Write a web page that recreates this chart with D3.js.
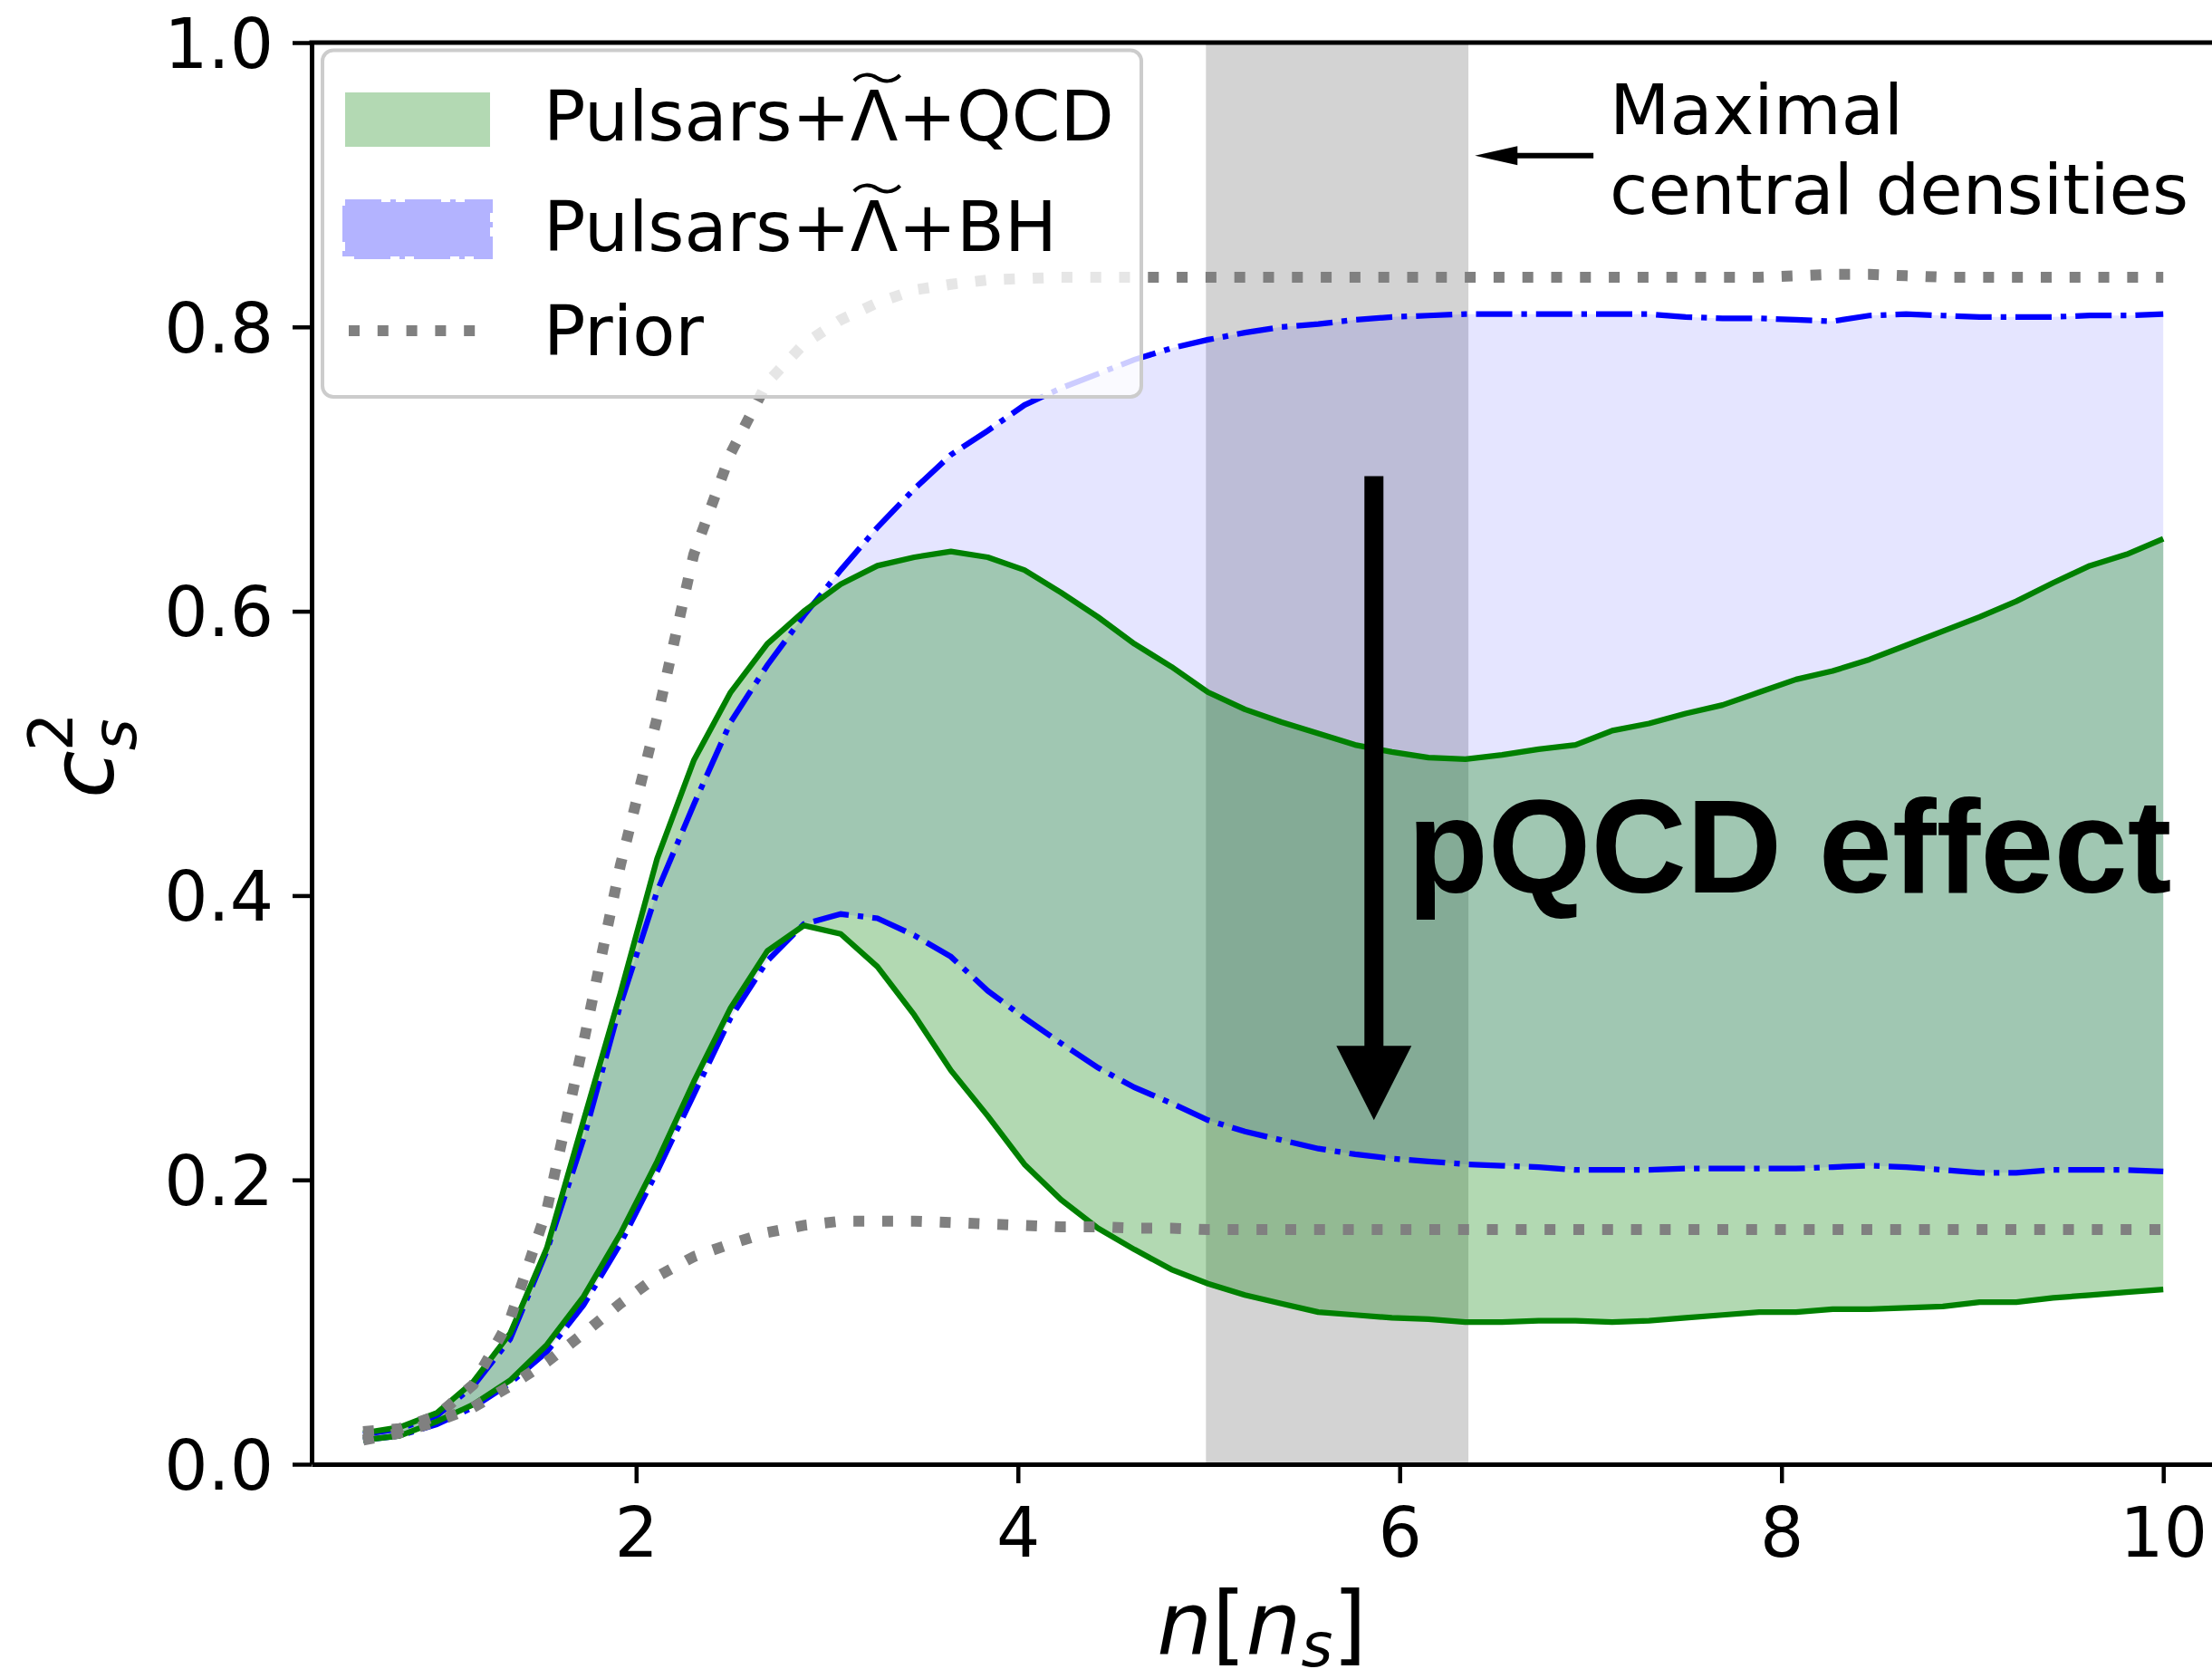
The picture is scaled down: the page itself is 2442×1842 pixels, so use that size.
<!DOCTYPE html>
<html>
<head>
<meta charset="utf-8">
<script src="https://cdn.jsdelivr.net/npm/d3@7"></script>
<style>body{margin:0;background:#fff}</style>
</head>
<body>
<svg width="2442" height="1842"></svg>
<script>
// density grid n [n_s]
var nVals = [0.570,0.762,0.955,1.147,1.340,1.532,1.725,1.917,2.110,2.302,
             2.495,2.687,2.879,3.072,3.264,3.457,3.649,3.842,4.034,4.227,
             4.419,4.611,4.804,4.996,5.189,5.381,5.574,5.766,5.959,6.151,
             6.344,6.536,6.728,6.921,7.113,7.306,7.498,7.691,7.883,8.076,
             8.268,8.460,8.653,8.845,9.038,9.230,9.423,9.615,9.808,10.000];

// Pulsars+Lambda+QCD band
var qcdHi = [0.022,0.026,0.036,0.058,0.092,0.152,0.242,0.331,0.426,0.495,
             0.543,0.577,0.600,0.619,0.632,0.638,0.642,0.638,0.629,0.613,
             0.596,0.577,0.561,0.543,0.531,0.522,0.514,0.506,0.501,0.497,
             0.496,0.499,0.503,0.506,0.516,0.521,0.528,0.534,0.543,0.552,
             0.558,0.566,0.576,0.586,0.596,0.607,0.620,0.632,0.640,0.651];
var qcdLo = [0.017,0.020,0.030,0.042,0.059,0.084,0.118,0.162,0.213,0.269,
             0.321,0.361,0.379,0.373,0.350,0.316,0.277,0.245,0.211,0.186,
             0.166,0.151,0.137,0.127,0.119,0.113,0.107,0.105,0.103,0.102,
             0.100,0.100,0.101,0.101,0.100,0.101,0.103,0.105,0.107,0.107,
             0.109,0.109,0.110,0.111,0.114,0.114,0.117,0.119,0.121,0.123];

// Pulsars+Lambda+BH band
var bhHi = [0.021,0.025,0.034,0.055,0.088,0.150,0.229,0.323,0.403,0.464,
            0.522,0.562,0.597,0.629,0.659,0.686,0.710,0.727,0.745,0.757,
            0.767,0.777,0.785,0.791,0.796,0.800,0.802,0.805,0.807,0.808,
            0.809,0.809,0.809,0.809,0.809,0.809,0.807,0.806,0.806,0.805,
            0.804,0.808,0.809,0.808,0.807,0.807,0.807,0.808,0.808,0.809];
var bhLo = [0.017,0.020,0.028,0.040,0.057,0.079,0.112,0.155,0.206,0.260,
            0.314,0.354,0.380,0.387,0.384,0.372,0.357,0.333,0.314,0.296,
            0.279,0.265,0.254,0.242,0.234,0.228,0.222,0.218,0.215,0.213,
            0.211,0.210,0.209,0.207,0.207,0.207,0.208,0.208,0.208,0.208,
            0.209,0.210,0.209,0.207,0.205,0.205,0.207,0.207,0.207,0.206];

// prior
var priorHi = [0.023,0.025,0.034,0.056,0.102,0.179,0.297,0.421,0.525,0.640,
               0.711,0.761,0.788,0.805,0.817,0.826,0.830,0.833,0.834,0.835,
               0.835,0.835,0.835,0.835,0.835,0.835,0.835,0.835,0.835,0.835,
               0.835,0.835,0.835,0.835,0.835,0.835,0.835,0.835,0.835,0.836,
               0.837,0.837,0.836,0.835,0.835,0.835,0.835,0.835,0.835,0.835];
var priorLo = [0.017,0.022,0.030,0.040,0.055,0.072,0.092,0.113,0.132,0.146,
               0.155,0.163,0.168,0.171,0.171,0.171,0.170,0.169,0.168,0.167,
               0.167,0.166,0.166,0.165,0.165,0.165,0.165,0.165,0.165,0.165,
               0.165,0.165,0.165,0.165,0.165,0.165,0.165,0.165,0.165,0.165,
               0.165,0.165,0.165,0.165,0.165,0.165,0.165,0.165,0.165,0.165];

var xTicks = [2, 4, 6, 8, 10];
var yTicks = [0.0, 0.2, 0.4, 0.6, 0.8, 1.0];
var maxDensity = [4.985, 6.36];   // grey span
var legendLabels = ["Pulsars+Λ+QCD", "Pulsars+Λ+BH", "Prior"];

var svg = d3.select("svg"),
    margin = {top: 47, left: 344},
    width = 2099,
    height = 1569,
    font = "DejaVu Sans";

var x = d3.scaleLinear().domain([0.3, 10.26]).range([0, width]),
    y = d3.scaleLinear().domain([0, 1]).range([height, 0]);

var g = svg.append("g")
    .attr("transform", "translate(" + margin.left + "," + margin.top + ")");

var data = nVals.map(function(n, i) {
  return {n: n, qh: qcdHi[i], ql: qcdLo[i], bh: bhHi[i], bl: bhLo[i], ph: priorHi[i], pl: priorLo[i]};
});

// grey band of maximal central densities
g.append("rect")
    .attr("x", x(maxDensity[0]))
    .attr("y", 0)
    .attr("width", x(maxDensity[1]) - x(maxDensity[0]))
    .attr("height", height)
    .attr("fill", "#d3d3d3");

function band(lo, hi) {
  return d3.area().x(function(d) { return x(d.n); })
      .y0(function(d) { return y(d[lo]); })
      .y1(function(d) { return y(d[hi]); });
}
function line(key) {
  return d3.line().x(function(d) { return x(d.n); }).y(function(d) { return y(d[key]); });
}

g.append("path").datum(data).attr("d", band("bl", "bh"))
    .attr("fill", "#0000ff").attr("fill-opacity", 0.1);
g.append("path").datum(data).attr("d", band("ql", "qh"))
    .attr("fill", "#008000").attr("fill-opacity", 0.3);

["bh", "bl"].forEach(function(k) {
  g.append("path").datum(data).attr("d", line(k))
      .attr("fill", "none").attr("stroke", "#0000ff").attr("stroke-width", 6.25)
      .attr("stroke-dasharray", "40,10,6.25,10");
});
["qh", "ql"].forEach(function(k) {
  g.append("path").datum(data).attr("d", line(k))
      .attr("fill", "none").attr("stroke", "#008000").attr("stroke-width", 6.25)
      .attr("stroke-linejoin", "round");
});
["ph", "pl"].forEach(function(k) {
  g.append("path").datum(data).attr("d", line(k))
      .attr("fill", "none").attr("stroke", "#808080").attr("stroke-width", 12)
      .attr("stroke-dasharray", "12,19.8");
});

// axes
var xAxis = g.append("g")
    .attr("transform", "translate(0," + height + ")")
    .call(d3.axisBottom(x).tickValues(xTicks).tickSize(21).tickSizeOuter(0).tickPadding(27));
var yAxis = g.append("g")
    .call(d3.axisLeft(y).tickValues(yTicks).tickFormat(d3.format(".1f"))
      .tickSize(21).tickSizeOuter(0).tickPadding(21));
[xAxis, yAxis].forEach(function(a) {
  a.attr("font-family", font).attr("font-size", 76);
  a.select(".domain").attr("stroke", "#000").attr("stroke-width", 5);
  a.selectAll(".tick line").attr("stroke", "#000").attr("stroke-width", 4.5);
});
yAxis.selectAll(".tick text").attr("dy", "0.36em");
g.append("line").attr("x1", -2.5).attr("x2", width).attr("y1", 0).attr("y2", 0)
    .attr("stroke", "#000").attr("stroke-width", 5);

// axis labels
var xl = svg.append("text").attr("x", 1393).attr("y", 1825).attr("text-anchor", "middle")
    .attr("font-family", font).attr("font-size", 96);
xl.append("tspan").attr("font-style", "italic").text("n");
xl.append("tspan").text("[");
xl.append("tspan").attr("font-style", "italic").text("n");
xl.append("tspan").attr("font-style", "italic").attr("font-size", 67).attr("dy", 14).text("s");
xl.append("tspan").attr("dy", -14).text("]");

var yl = svg.append("text").attr("transform", "translate(125,881) rotate(-90)")
    .attr("font-family", font).attr("font-size", 96);
yl.append("tspan").attr("font-style", "italic").text("c");
yl.append("tspan").attr("font-style", "italic").attr("font-size", 67).attr("dy", 25).text("s");
yl.append("tspan").attr("font-size", 67).attr("dx", -36).attr("dy", -70).text("2");

// legend
var lg = svg.append("g");
lg.append("rect").attr("x", 356).attr("y", 55.5).attr("width", 904).attr("height", 382.5).attr("rx", 12)
    .attr("fill", "#fff").attr("fill-opacity", 0.8).attr("stroke", "#cccccc").attr("stroke-width", 4);
lg.append("rect").attr("x", 381).attr("y", 102).attr("width", 160).attr("height", 60)
    .attr("fill", "#b3d9b3");
lg.append("rect").attr("x", 381).attr("y", 223).attr("width", 160).attr("height", 60)
    .attr("fill", "#b3b3ff").attr("stroke", "#b3b3ff").attr("stroke-width", 6)
    .attr("stroke-dasharray", "40,10,6,10");
lg.append("line").attr("x1", 385).attr("x2", 541).attr("y1", 365).attr("y2", 365)
    .attr("stroke", "#808080").attr("stroke-width", 12).attr("stroke-dasharray", "12,19.8");

var baselines = [155, 277, 392];
legendLabels.forEach(function(t, i) {
  var txt = lg.append("text").attr("x", 600).attr("y", baselines[i])
      .attr("font-family", font).attr("font-size", 77).text(t);
  var idx = t.indexOf("Λ");
  if (idx >= 0) {
    var e = txt.node().getExtentOfChar(idx);
    var x0 = e.x + 4, w = e.width - 2, yc = baselines[i] - 69;
    lg.append("path")
        .attr("d", "M" + x0 + "," + (yc + 3) +
          " C" + (x0 + w * 0.15) + "," + (yc - 5) + " " + (x0 + w * 0.35) + "," + (yc - 5) + " " + (x0 + w * 0.5) + "," + yc +
          " S" + (x0 + w * 0.85) + "," + (yc + 5) + " " + (x0 + w) + "," + (yc - 3))
        .attr("fill", "none").attr("stroke", "#000").attr("stroke-width", 4);
  }
});

// annotations
var ann = g.append("g");
// maximal central densities arrow
var ay = y(0.9205), tipX = x(6.394), tailX = x(7.015);
ann.append("path")
    .attr("d", "M" + tailX + "," + (ay - 3) + "H" + (tipX + 47) + "V" + (ay - 10.5) +
      "L" + tipX + "," + ay + "L" + (tipX + 47) + "," + (ay + 10.5) + "V" + (ay + 3) + "H" + tailX + "Z")
    .attr("fill", "#000");
ann.append("text").attr("x", x(7.1)).attr("y", y(0.9356))
    .attr("font-family", font).attr("font-size", 77).text("Maximal");
ann.append("text").attr("x", x(7.1)).attr("y", y(0.9356) + 88)
    .attr("font-family", font).attr("font-size", 77).text("central densities");

// pQCD effect arrow
var arrowX = x(5.865), arrowTop = y(0.695), arrowTip = y(0.242);
ann.append("path")
    .attr("d", "M" + (arrowX - 10.5) + "," + arrowTop + "H" + (arrowX + 10.5) + "V" + (arrowTip - 82) +
      "H" + (arrowX + 41.5) + "L" + arrowX + "," + arrowTip + "L" + (arrowX - 41.5) + "," + (arrowTip - 82) +
      "H" + (arrowX - 10.5) + "Z")
    .attr("fill", "#000");
ann.append("text").attr("x", x(6.04)).attr("y", y(0.402))
    .attr("font-family", "Liberation Sans, Arial, sans-serif").attr("font-weight", "bold")
    .attr("font-size", 146).text("pQCD effect");
</script>
</body>
</html>
